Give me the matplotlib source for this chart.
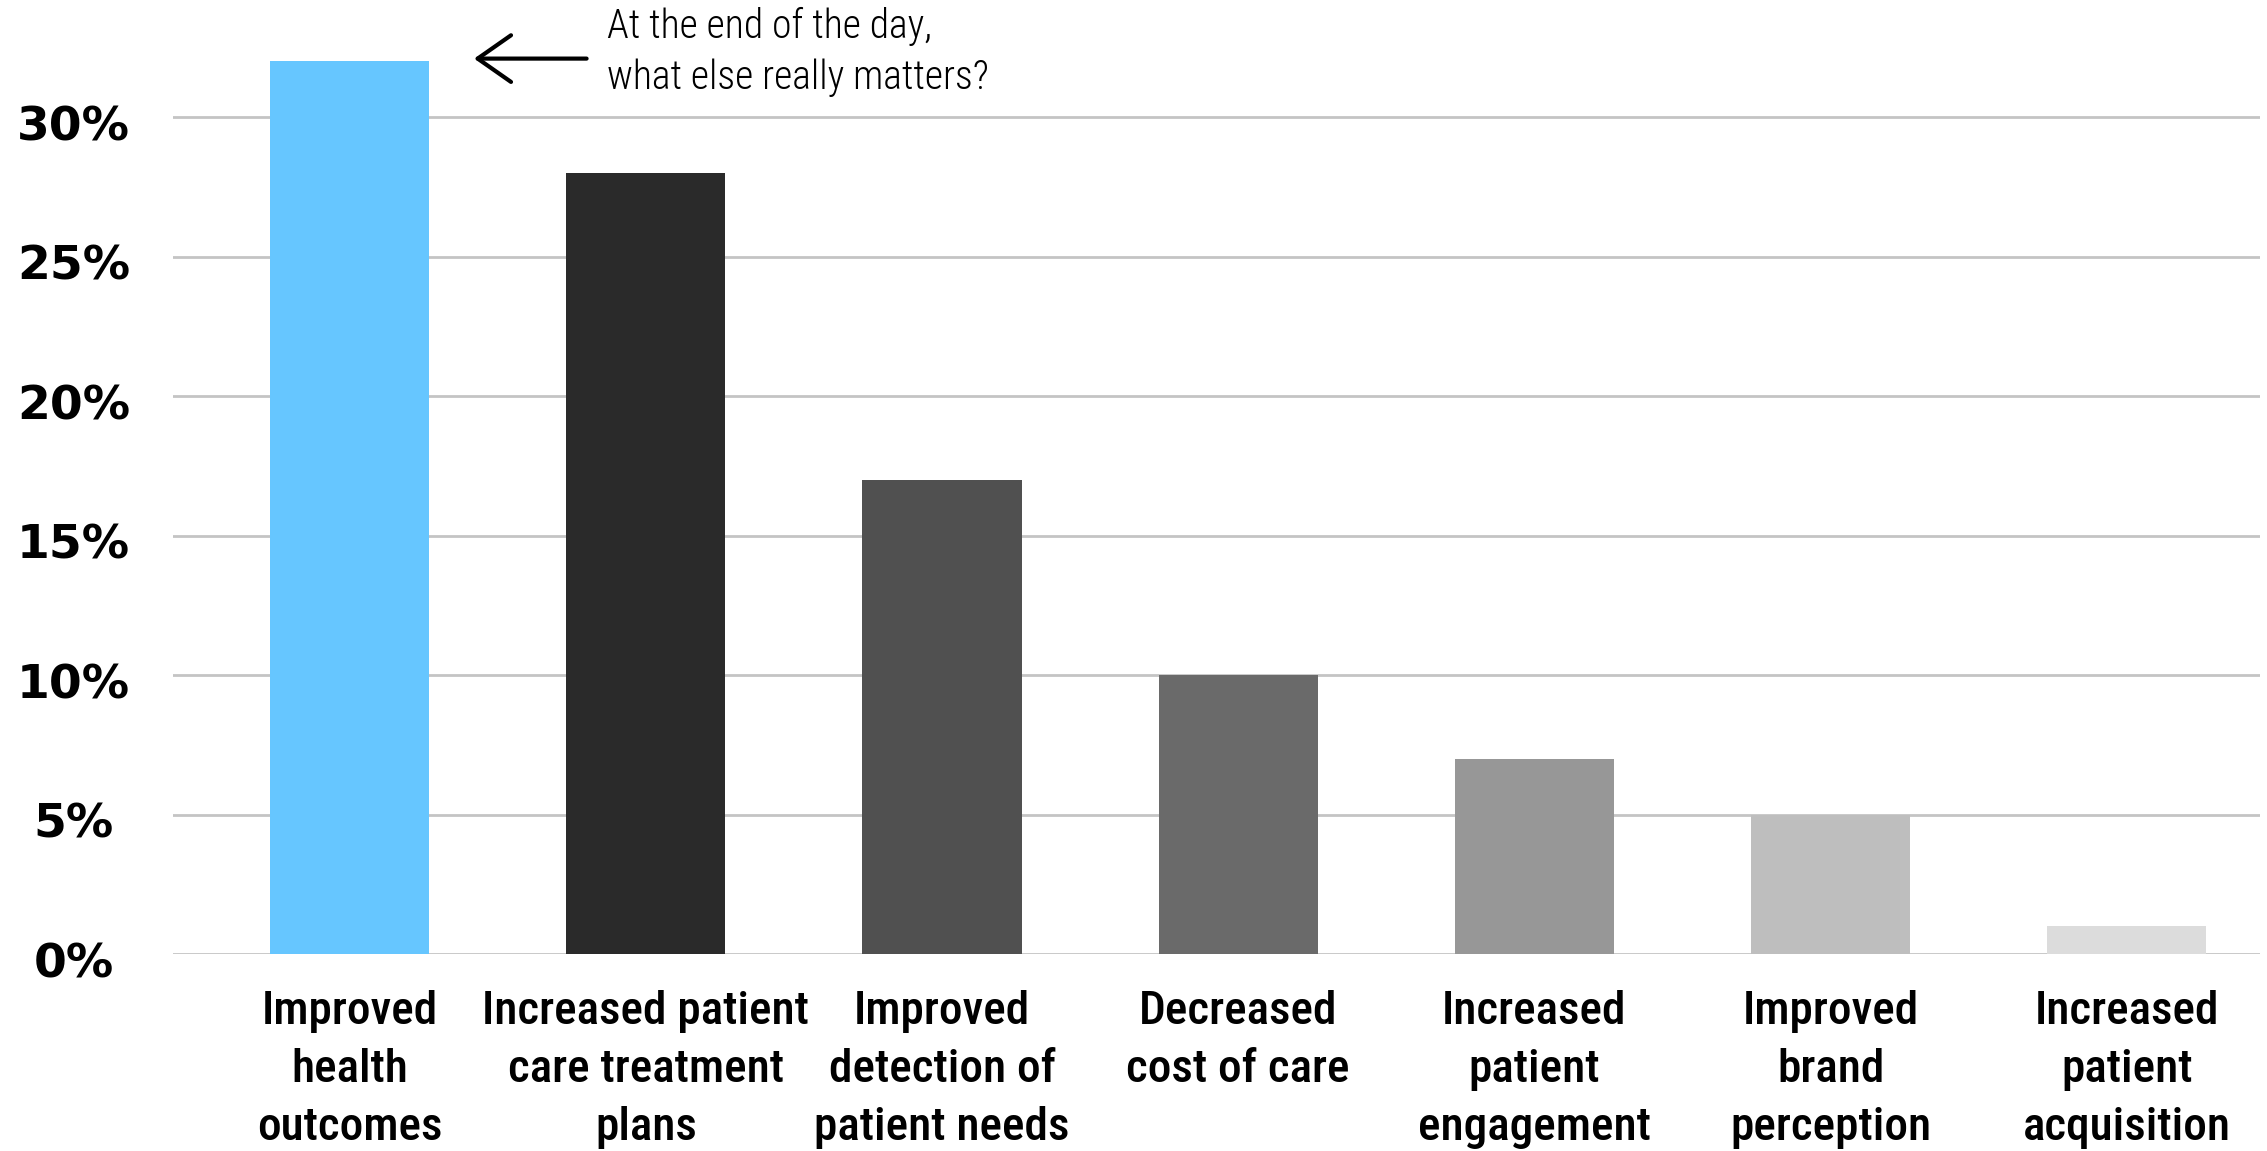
import matplotlib.pyplot as plt
from matplotlib.transforms import ScaledTranslation

categories = [
    "Improved\nhealth\noutcomes",
    "Increased patient\ncare treatment\nplans",
    "Improved\ndetection of\npatient needs",
    "Decreased\ncost of care",
    "Increased\npatient\nengagement",
    "Improved\nbrand\nperception",
    "Increased\npatient\nacquisition",
]
values = [32, 28, 17, 10, 7, 5, 1]
colors = ["#66c6ff", "#2a2a2a", "#505050", "#6a6a6a", "#979797", "#bebebe", "#dcdcdc"]
yticks = [0, 5, 10, 15, 20, 25, 30]
ytick_labels = ["0%", "5%", "10%", "15%", "20%", "25%", "30%"]

fig = plt.figure(figsize=(22.67, 11.51), dpi=100)
ax = fig.add_axes([0.0765, 0.1709, 0.9203, 0.8291])

x = range(len(categories))
ax.bar(x, values, width=0.537, color=colors, zorder=2)

ax.set_xlim(-0.595, 6.449)
ax.set_ylim(0, 34.2)
ax.set_yticks(yticks)
ax.set_yticklabels(ytick_labels, fontsize=34, fontweight="bold",
                   family="DejaVu Sans", ha="center")
ax.tick_params(axis="y", length=0, pad=72)
# labels sit a little below their gridlines
for lab in ax.get_yticklabels():
    lab.set_transform(lab.get_transform() + ScaledTranslation(0, -4 / 72, fig.dpi_scale_trans))

ax.set_xticks(list(x))
ax.set_xticklabels(categories, fontsize=34, fontweight="medium",
                   family=["Roboto Condensed", "Roboto"], linespacing=1.43,
                   va="top")
ax.tick_params(axis="x", length=0, pad=26)

ax.grid(axis="y", color="#c4c4c4", linewidth=2, zorder=0)
for s in ax.spines.values():
    s.set_visible(False)

ax.annotate("", xy=(0.42, 32.1), xytext=(0.80, 32.1),
            arrowprops=dict(arrowstyle="->,head_length=0.6,head_width=0.42",
                            mutation_scale=40, lw=3, color="black",
                            shrinkA=0, shrinkB=0))
ax.text(0.868, 32.35, "At the end of the day,\nwhat else really matters?",
        fontsize=28.5, fontweight="light", family=["Roboto Condensed", "Roboto"],
        va="center", ha="left", linespacing=1.4)

fig.savefig("out.png", dpi=100)
